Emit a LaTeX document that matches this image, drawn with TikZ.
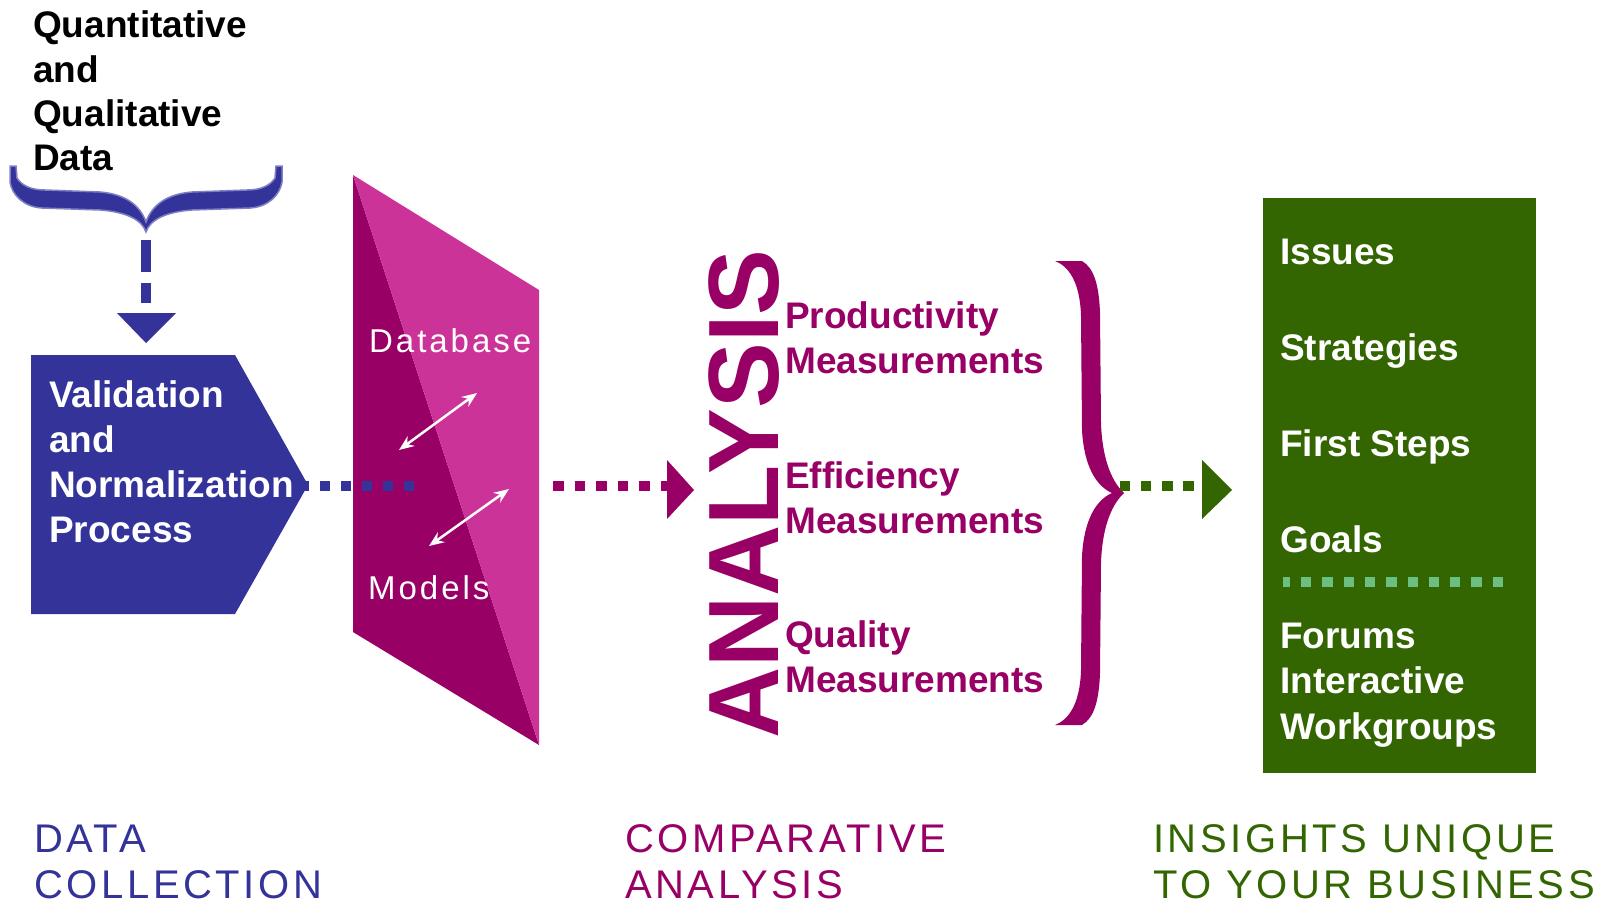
\documentclass[tikz,border=0pt]{standalone}
\usepackage{fontspec}
\usepackage{graphicx}
\setmainfont{Liberation Sans}
\newfontfamily\spacedfont[LetterSpace=9]{Liberation Sans}
\newfontfamily\panelfont[LetterSpace=9]{Liberation Sans}
\usetikzlibrary{arrows.meta}
\definecolor{cblue}{HTML}{333399}
\definecolor{cblueedge}{HTML}{7F7FC4}
\definecolor{cmag}{HTML}{990066}
\definecolor{cmaglight}{HTML}{CC3399}
\definecolor{cgreen}{HTML}{336600}
\definecolor{cgreenlight}{HTML}{6BBF7F}
\begin{document}
\begin{tikzpicture}[x=1pt,y=-1pt,
  bigtxt/.style={font=\fontsize{37}{44}\selectfont\bfseries, inner sep=0pt, anchor=base west},
  captxt/.style={font=\spacedfont\fontsize{40}{47}\selectfont, inner sep=0pt, anchor=base west},
  paneltxt/.style={font=\panelfont\fontsize{33}{40}\selectfont, text=white, inner sep=0pt, anchor=base west},
  dotline/.style={line width=10pt, dash pattern=on 10pt off 11pt},
  dblarrow/.style={white, line width=2.5pt, {Stealth[length=15pt,width=12pt,inset=5pt]}-{Stealth[length=15pt,width=12pt,inset=5pt]}}
]
\useasboundingbox (0,0) rectangle (1611,905);
\fill[white] (0,0) rectangle (1611,905);

% ---- title
\node[bigtxt] (q1) at (33,37) {Quantitative};
\node[bigtxt] (q2) at (33,82) {and};
\node[bigtxt] (q3) at (33,126) {Qualitative};
\node[bigtxt] (q4) at (33,170) {Data};

% ---- top-left brace
\filldraw[fill=cblue, draw=cblueedge, line width=1.5pt]
  (10,166) -- (16,166) -- (17,178) .. controls (22,186) and (32,190) .. (45,190)
  -- (100,192) .. controls (125,194) and (140,205) .. (146,222)
  .. controls (152,205) and (167,194) .. (192,192) -- (247,190)
  .. controls (260,190) and (270,186) .. (275,178) -- (276,166) -- (282,166)
  -- (282,182) .. controls (280,195) and (268,207) .. (250,208)
  -- (192,210) .. controls (165,212) and (150,220) .. (146,232)
  .. controls (142,220) and (127,212) .. (100,210) -- (42,208)
  .. controls (24,207) and (12,195) .. (10,182) -- cycle;
\coordinate (btip) at (146,240);
\coordinate (dend) at (146,303);
\draw[cblue, line width=10pt, dash pattern=on 32pt off 11pt] (btip) -- (dend);
\fill[cblue] (117,313) -- (176,313) -- (146,343) -- cycle;

% ---- pentagon
\fill[cblue] (31,355) -- (235,355) -- (308,485) -- (235,614) -- (31,614) -- cycle;
\coordinate (ptip) at (299,486);
\node[bigtxt, text=white] (v1) at (49,407) {Validation};
\node[bigtxt, text=white] (v2) at (49,452) {and};
\node[bigtxt, text=white] (v3) at (49,497) {Normalization};
\node[bigtxt, text=white] (v4) at (49,542) {Process};

% ---- panel
\fill[cmag] (353,175) -- (539,745) -- (353,632) -- cycle;
\fill[cmaglight] (353,175) -- (539,290) -- (539,745) -- cycle;
\node[paneltxt] (db) at (369,352) {Database};
\node[paneltxt] (md) at (368,599) {Models};
\coordinate (a1s) at (399,450);
\coordinate (a1e) at (477,393);
\coordinate (a2s) at (429,546);
\coordinate (a2e) at (509,489);
\draw[dblarrow] (a1s) -- (a1e);
\draw[dblarrow] (a2s) -- (a2e);

% blue dots
\coordinate (pin) at (414,486);
\draw[cblue, dotline] (ptip) -- (pin);

% magenta dots + head
\coordinate (mstart) at (553,486);
\coordinate (mend) at (668,486);
\draw[cmag, line width=10pt, dash pattern=on 10.5pt off 11pt] (mstart) -- (mend);
\fill[cmag] (667,460) -- (694,490) -- (667,519) -- cycle;

% ---- ANALYSIS
\node[font=\fontsize{100}{100}\selectfont\bfseries, text=cmag, inner sep=0pt,
      anchor=base west, rotate=90] (an) at (778,739) {\scalebox{0.985}[1]{ANALYSIS}};

\node[bigtxt, text=cmag] (m1) at (785,328) {Productivity};
\node[bigtxt, text=cmag] (m2) at (785,373) {Measurements};
\node[bigtxt, text=cmag] (m3) at (785,488) {Efficiency};
\node[bigtxt, text=cmag] (m4) at (785,533) {Measurements};
\node[bigtxt, text=cmag] (m5) at (785,647) {Quality};
\node[bigtxt, text=cmag] (m6) at (785,692) {Measurements};

% ---- right brace
\fill[cmag]
  (1055,261) -- (1082,261) .. controls (1094,268) and (1099,285) .. (1100,313)
  -- (1101,423) .. controls (1102,455) and (1110,480) .. (1124,493)
  .. controls (1110,506) and (1102,531) .. (1101,563)
  -- (1100,673) .. controls (1099,701) and (1094,718) .. (1082,725)
  -- (1055,725) .. controls (1068,720) and (1080,705) .. (1081,670)
  -- (1082,556) .. controls (1084,520) and (1096,500) .. (1112,493)
  .. controls (1096,486) and (1084,466) .. (1082,430)
  -- (1081,316) .. controls (1080,281) and (1068,266) .. (1055,261) -- cycle;

% green dots + head
\coordinate (gstart) at (1119.5,486);
\coordinate (gend) at (1194.5,486);
\draw[cgreen, line width=10pt, dash pattern=on 10.5pt off 10.8pt] (gstart) -- (gend);
\fill[cgreen] (1202,460) -- (1232,490) -- (1202,519) -- cycle;

% ---- green box
\node[fill=cgreen, minimum width=273pt, minimum height=575pt, inner sep=0pt,
      anchor=north west] (gbox) at (1263,198) {};
\node[bigtxt, text=white] (g1) at (1280,264) {Issues};
\node[bigtxt, text=white] (g2) at (1280,360) {Strategies};
\node[bigtxt, text=white] (g3) at (1280,456) {First Steps};
\node[bigtxt, text=white] (g4) at (1280,552) {Goals};
\coordinate (ls) at (1283,582);
\coordinate (le) at (1503,582);
\draw[cgreenlight, line width=10pt, dash pattern=on 10.3pt off 11pt, dash phase=3.3pt] (ls) -- (le);
\node[bigtxt, text=white] (g5) at (1280,648) {Forums};
\node[bigtxt, text=white] (g6) at (1280,693) {Interactive};
\node[bigtxt, text=white] (g7) at (1280,739) {Workgroups};

% ---- bottom captions
\node[captxt, text=cblue] (c1) at (34,852) {DATA};
\node[captxt, text=cblue] (c2) at (34,898) {COLLECTION};
\node[captxt, text=cmag] (c3) at (625,852) {COMPARATIVE};
\node[captxt, text=cmag] (c4) at (625,898) {ANALYSIS};
\node[captxt, text=cgreen] (c5) at (1153,852) {INSIGHTS UNIQUE};
\node[captxt, text=cgreen] (c6) at (1153,898) {TO YOUR BUSINESS};
\end{tikzpicture}
\end{document}
